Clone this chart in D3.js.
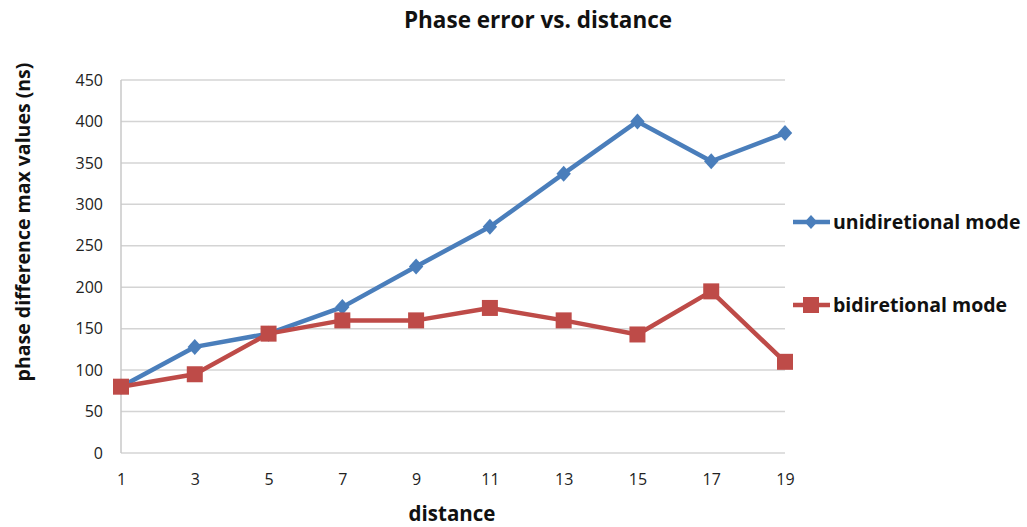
<!DOCTYPE html>
<html><head><meta charset="utf-8">
<script src="https://cdn.jsdelivr.net/npm/d3@7"></script>
<style>body{margin:0;background:#fff;} svg{display:block;} text{font-family:"Open Sans","DejaVu Sans",sans-serif;}</style>
</head><body><svg id="c" width="1027" height="527"></svg>
<script>
const distances = [1,3,5,7,9,11,13,15,17,19];
const unidirectional = [80,128,144,176,225,273,337,400,352,386];
const bidirectional = [80,95,144,160,160,175,160,143,195,110];
const yTicks = [0,50,100,150,200,250,300,350,400,450];
const seriesNames = ["unidiretional mode","bidiretional mode"];

const svg = d3.select("#c");
const pL=121, pR=785, pT=80, pB=453;
const x = d3.scaleLinear().domain([1,19]).range([pL,pR]);
const y = d3.scaleLinear().domain([0,450]).range([pB,pT]);

// wide diamond symbol (half-width 0.9 of half-height)
const wideDiamond = {draw(ctx,size){const h=Math.sqrt(size/1.8);const w=h*0.9;ctx.moveTo(0,-h);ctx.lineTo(w,0);ctx.lineTo(0,h);ctx.lineTo(-w,0);ctx.closePath();}};

// gridlines
svg.append("g").selectAll("line").data(yTicks).join("line")
  .attr("x1",pL).attr("x2",pR).attr("y1",d=>y(d)).attr("y2",d=>y(d))
  .attr("stroke","#d4d4d4").attr("stroke-width",1.5);
svg.append("line").attr("x1",pL).attr("x2",pL).attr("y1",pT).attr("y2",pB).attr("stroke","#c8c8c8").attr("stroke-width",1.5);

const ya = svg.append("g").attr("transform",`translate(${pL},0)`).call(d3.axisLeft(y).tickValues(yTicks).tickSize(0).tickPadding(18));
ya.select(".domain").remove();
ya.selectAll("text").attr("font-size",16).attr("fill","#222");
const xa = svg.append("g").attr("transform",`translate(0,${pB})`).call(d3.axisBottom(x).tickValues(distances).tickSize(0).tickPadding(21));
xa.select(".domain").remove();
xa.selectAll("text").attr("font-size",16).attr("fill","#222");

const line = d3.line().x((d,i)=>x(distances[i])).y(d=>y(d));
const colors = ["#4a7ebb","#be4b48"];
[unidirectional,bidirectional].forEach((s,k)=>{
  svg.append("path").datum(s).attr("d",line).attr("fill","none").attr("stroke",colors[k]).attr("stroke-width",4.5).attr("stroke-linejoin","round");
});
svg.append("g").selectAll("path").data(unidirectional).join("path")
  .attr("d",d3.symbol(wideDiamond,115)).attr("transform",(d,i)=>`translate(${x(distances[i])},${y(d)})`).attr("fill",colors[0]);
svg.append("g").selectAll("rect").data(bidirectional).join("rect")
  .attr("x",(d,i)=>x(distances[i])-8).attr("y",d=>y(d)-8).attr("width",16).attr("height",16).attr("fill",colors[1]);

// legend
const lg=[222,305];
seriesNames.forEach((n,k)=>{
  const g=svg.append("g");
  g.append("line").attr("x1",793).attr("x2",830).attr("y1",lg[k]).attr("y2",lg[k]).attr("stroke",colors[k]).attr("stroke-width",4.5);
  if(k===0) g.append("path").attr("d",d3.symbol(wideDiamond,90)).attr("transform",`translate(811,${lg[k]})`).attr("fill",colors[0]);
  else g.append("rect").attr("x",803).attr("y",lg[k]-8).attr("width",16).attr("height",16).attr("fill",colors[1]);
  g.append("text").attr("x",833).attr("y",lg[k]+7).attr("font-size",19.5).attr("font-weight","bold").attr("fill","#111").text(n);
});

svg.append("text").attr("x",538).attr("y",28).attr("text-anchor","middle").attr("font-size",22.5).attr("font-weight","bold").attr("fill","#111").text("Phase error vs. distance");
svg.append("text").attr("x",452).attr("y",521).attr("text-anchor","middle").attr("font-size",20.5).attr("font-weight","bold").attr("fill","#111").text("distance");
svg.append("text").attr("transform","translate(30,222) rotate(-90)").attr("text-anchor","middle").attr("font-size",19.5).attr("font-weight","bold").attr("fill","#111").text("phase difference max values (ns)");
</script></body></html>
